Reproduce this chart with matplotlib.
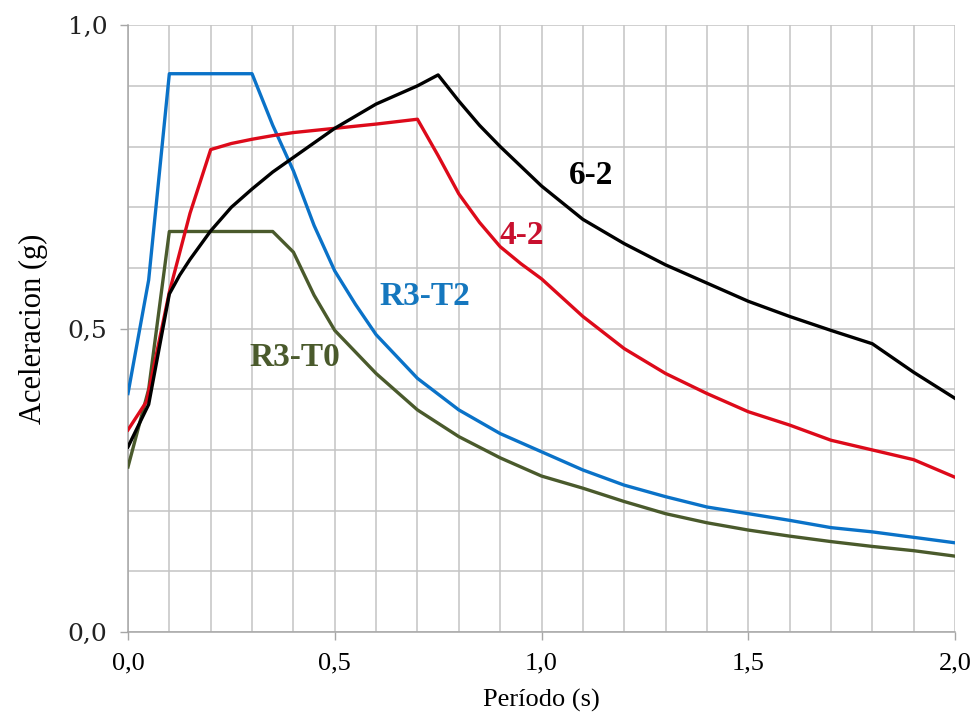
import matplotlib
matplotlib.use("Agg")
import matplotlib.pyplot as plt
from matplotlib.ticker import MultipleLocator, FuncFormatter

# ---- data ----
t_r3t2 = [0.0, 0.05, 0.1, 0.3, 0.35, 0.4, 0.45, 0.5, 0.55, 0.6, 0.7, 0.8, 0.9, 1.0,
          1.1, 1.2, 1.3, 1.4, 1.5, 1.6, 1.7, 1.8, 1.9, 2.0]
a_r3t2 = [0.393, 0.58, 0.92, 0.92, 0.835, 0.76, 0.67, 0.595, 0.54, 0.49, 0.418, 0.366,
          0.327, 0.297, 0.267, 0.242, 0.223, 0.206, 0.195, 0.184, 0.172, 0.165, 0.156, 0.147]

t_r3t0 = [0.0, 0.05, 0.1, 0.35, 0.4, 0.45, 0.5, 0.6, 0.7, 0.8, 0.9, 1.0,
          1.1, 1.2, 1.3, 1.4, 1.5, 1.6, 1.7, 1.8, 1.9, 2.0]
a_r3t0 = [0.272, 0.40, 0.66, 0.66, 0.626, 0.555, 0.497, 0.426, 0.366, 0.322, 0.287, 0.257,
          0.237, 0.215, 0.195, 0.18, 0.168, 0.158, 0.149, 0.141, 0.134, 0.125]

t_42 = [0.0, 0.045, 0.1, 0.15, 0.2, 0.25, 0.3, 0.35, 0.4, 0.5, 0.6, 0.7, 0.75, 0.8,
        0.85, 0.9, 0.95, 1.0, 1.1, 1.2, 1.3, 1.4, 1.5, 1.6, 1.7, 1.8, 1.9, 2.0]
a_42 = [0.333, 0.38, 0.56, 0.69, 0.795, 0.805, 0.812, 0.818, 0.823, 0.83, 0.837, 0.845,
        0.785, 0.722, 0.675, 0.635, 0.607, 0.582, 0.52, 0.467, 0.426, 0.393, 0.363, 0.341,
        0.316, 0.30, 0.284, 0.255]

t_62 = [0.0, 0.05, 0.1, 0.125, 0.15, 0.2, 0.25, 0.3, 0.35, 0.4, 0.5, 0.6, 0.7, 0.75, 0.8,
        0.85, 0.9, 1.0, 1.1, 1.2, 1.3, 1.4, 1.5, 1.6, 1.7, 1.8, 1.9, 2.0]
a_62 = [0.305, 0.375, 0.557, 0.588, 0.614, 0.661, 0.70, 0.73, 0.758, 0.782, 0.83, 0.87, 0.90,
        0.918, 0.875, 0.835, 0.80, 0.735, 0.68, 0.64, 0.605, 0.575, 0.545, 0.52, 0.497,
        0.475, 0.428, 0.385]

series_labels = ["R3-T2", "R3-T0", "4-2", "6-2"]
x_ticks = [0.0, 0.5, 1.0, 1.5, 2.0]
y_ticks = [0.0, 0.5, 1.0]

# ---- figure ----
fig = plt.figure(figsize=(9.77, 7.19), dpi=100)
ax = fig.add_axes([0.131, 0.121, 0.8465, 0.844])

c_blue = "#0a72c8"
c_green = "#4a5a2c"
c_red = "#dd0a1a"
c_black = "#000000"

ax.plot(t_r3t2, a_r3t2, color=c_blue, lw=2.4, zorder=3)
ax.plot(t_r3t0, a_r3t0, color=c_green, lw=2.4, zorder=3)
ax.plot(t_42, a_42, color=c_red, lw=2.4, zorder=3)
ax.plot(t_62, a_62, color=c_black, lw=2.4, zorder=4)

ax.set_xlim(0, 2.0)
ax.set_ylim(0, 1.0)

ax.xaxis.set_minor_locator(MultipleLocator(0.1))
ax.yaxis.set_minor_locator(MultipleLocator(0.1))
ax.set_xticks(x_ticks)
ax.set_yticks(y_ticks)

fmt = FuncFormatter(lambda v, p: f"{v:.1f}".replace(".", ","))
ax.xaxis.set_major_formatter(fmt)
ax.yaxis.set_major_formatter(fmt)

ax.grid(True, which="both", color="#c4c4c4", lw=1.1, zorder=0)
ax.set_axisbelow(True)

for s in ["top", "right"]:
    ax.spines[s].set_visible(False)
for s in ["left", "bottom"]:
    ax.spines[s].set_color("#a6a6a6")
    ax.spines[s].set_linewidth(1.1)

ax.tick_params(which="major", direction="out", length=6, color="#a6a6a6", width=1.0)
ax.tick_params(which="minor", length=0)
ax.tick_params(axis="x", labelsize=19, pad=9)
ax.tick_params(axis="y", labelsize=18, pad=9)
for lab in ax.get_xticklabels():
    lab.set_fontfamily("Liberation Serif")
for lab in ax.get_yticklabels():
    lab.set_fontfamily("DejaVu Serif")
    lab.set_color("#222222")

ax.set_xlabel("Período (s)", fontsize=19, family="Liberation Serif", labelpad=10)
ax.set_ylabel("Aceleracion (g)", fontsize=22, family="Liberation Serif", labelpad=14)

lab_kw = dict(fontsize=24, fontweight="bold", family="Liberation Serif",
              ha="center", va="center", zorder=5)
ax.text(0.718, 0.553, series_labels[0], color="#1577be", **lab_kw)
ax.text(0.404, 0.453, series_labels[1], color="#4a5a2c", **lab_kw)
ax.text(0.953, 0.654, series_labels[2], color="#c8102e", **lab_kw)
ax.text(1.12, 0.752, series_labels[3], color="#000000", **lab_kw)

fig.savefig("out.png", dpi=100)
